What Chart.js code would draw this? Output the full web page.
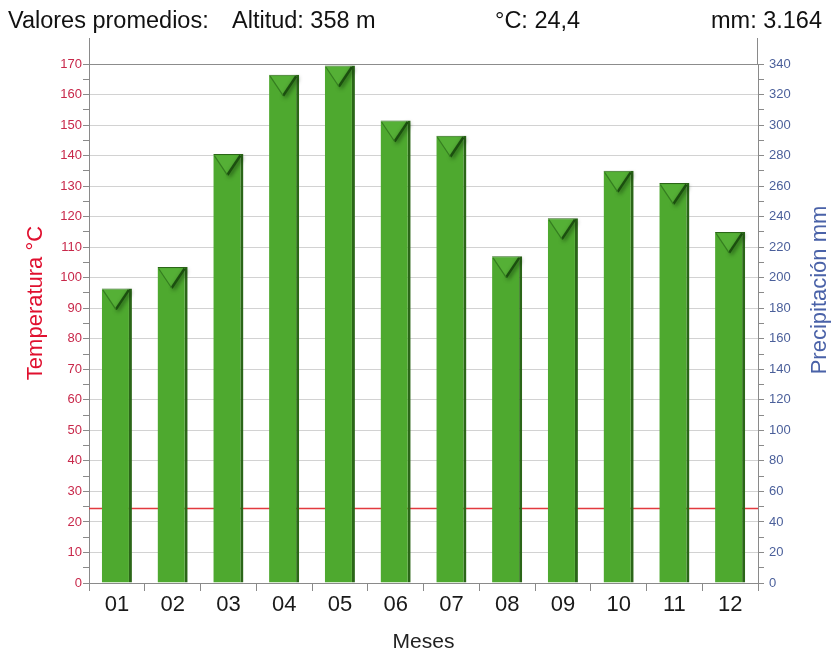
<!DOCTYPE html>
<html>
<head>
<meta charset="utf-8">
<script src="https://cdn.jsdelivr.net/npm/chart.js@4/dist/chart.umd.min.js"></script>
<style>
  html, body { margin: 0; padding: 0; background: #fff; }
  #wrap { width: 831px; height: 653px; position: relative; }
</style>
</head>
<body>
<div id="wrap"><canvas id="c" width="831" height="653"></canvas></div>
<script>
// Monthly climate data
const months = ['01', '02', '03', '04', '05', '06', '07', '08', '09', '10', '11', '12'];
const precipitation = [193, 207, 281, 333, 339, 303, 293, 214, 239, 270, 262, 230]; // mm
const temperature = [24.4, 24.4, 24.4, 24.4, 24.4, 24.4, 24.4, 24.4, 24.4, 24.4, 24.4, 24.4]; // °C
const headerLabels = ['Valores promedios:', 'Altitud: 358 m', '°C: 24,4', 'mm: 3.164'];
const tempTitle = 'Temperatura °C';
const precTitle = 'Precipitación mm';
const xTitle = 'Meses';

const FONT = "'Liberation Sans', Arial, sans-serif";
const AXIS_GRAY = '#8a8a8a';
const GRID_GRAY = '#d2d2d2';
const RED_TICK = '#c8284a';
const BLUE_TICK = '#4a5f9a';

// Temperature as a stepped line spanning each month slot, drawn behind the bars
const tempLinePlugin = {
  id: 'tempLine',
  beforeDatasetsDraw(chart) {
    const { ctx, scales } = chart;
    const x = scales.x, y = scales.y;
    const half = (x.getPixelForValue(1) - x.getPixelForValue(0)) / 2;
    ctx.save();
    ctx.strokeStyle = '#e23a3f';
    ctx.lineWidth = 1.5;
    ctx.beginPath();
    temperature.forEach((t, i) => {
      const cx = x.getPixelForValue(i);
      const py = y.getPixelForValue(t);
      if (i === 0) ctx.moveTo(cx - half, py); else ctx.lineTo(cx - half, py);
      ctx.lineTo(cx + half, py);
    });
    ctx.stroke();
    ctx.restore();
  }
};

// Bevelled triangle cap on each bar
const barCapPlugin = {
  id: 'barCap',
  afterDatasetsDraw(chart) {
    const { ctx } = chart;
    const meta = chart.getDatasetMeta(0);
    meta.data.forEach(bar => {
      const { x, y, width } = bar.getProps(['x', 'y', 'width'], true);
      const l = x - width / 2 + 1, r = x + width / 2 - 3;
      const cx = (l + r) / 2;
      const top = y + 1.5, apex = y + 21;
      ctx.save();
      ctx.beginPath();
      ctx.moveTo(l, top); ctx.lineTo(r, top); ctx.lineTo(cx, apex); ctx.closePath();
      ctx.fillStyle = '#55b036';
      ctx.fill();
      ctx.shadowColor = 'rgba(10,40,5,0.75)';
      ctx.shadowBlur = 4;
      ctx.shadowOffsetX = 1.5;
      ctx.shadowOffsetY = 1.5;
      ctx.strokeStyle = '#1b4f0f';
      ctx.lineWidth = 2.5;
      ctx.beginPath();
      ctx.moveTo(r, top); ctx.lineTo(cx, apex);
      ctx.stroke();
      ctx.shadowColor = 'transparent';
      ctx.strokeStyle = '#357d20';
      ctx.lineWidth = 1.2;
      ctx.beginPath();
      ctx.moveTo(l, top); ctx.lineTo(cx, apex);
      ctx.stroke();
      ctx.restore();
    });
  }
};

// Header, axis titles and axis extensions above the plot
const textPlugin = {
  id: 'texts',
  afterDraw(chart) {
    const { ctx, chartArea } = chart;
    ctx.save();
    // axis lines extend above the top value
    ctx.strokeStyle = AXIS_GRAY;
    ctx.lineWidth = 1;
    ctx.beginPath();
    ctx.moveTo(Math.round(chartArea.left) + 0.5, 38); ctx.lineTo(Math.round(chartArea.left) + 0.5, chartArea.top);
    ctx.moveTo(Math.round(chartArea.right) - 0.5, 38); ctx.lineTo(Math.round(chartArea.right) - 0.5, chartArea.top);
    ctx.stroke();

    ctx.fillStyle = '#111';
    ctx.font = '23.5px ' + FONT;
    ctx.textBaseline = 'alphabetic';
    ctx.textAlign = 'left';
    ctx.fillText(headerLabels[0], 8, 28);
    ctx.fillText(headerLabels[1], 232, 28);
    ctx.fillText(headerLabels[2], 495, 28);
    ctx.textAlign = 'right';
    ctx.fillText(headerLabels[3], 822, 28);

    ctx.textAlign = 'center';
    ctx.textBaseline = 'middle';
    ctx.font = '21px ' + FONT;
    ctx.fillStyle = '#222';
    ctx.fillText(xTitle, (chartArea.left + chartArea.right) / 2, 642);

    ctx.font = '22px ' + FONT;
    ctx.save();
    ctx.translate(36, 303);
    ctx.rotate(-Math.PI / 2);
    ctx.fillStyle = '#e0102f';
    ctx.fillText(tempTitle, 0, 0);
    ctx.restore();
    ctx.save();
    ctx.translate(820, 290);
    ctx.rotate(-Math.PI / 2);
    ctx.fillStyle = '#4a62a8';
    ctx.fillText(precTitle, 0, 0);
    ctx.restore();
    ctx.restore();
  }
};

new Chart(document.getElementById('c'), {
  type: 'bar',
  data: {
    labels: months,
    datasets: [{
      label: 'Precipitación',
      data: precipitation,
      yAxisID: 'y2',
      backgroundColor: '#4ea92f',
      borderColor: '#2b6618',
      borderWidth: { top: 1, right: 3, left: 0, bottom: 0 },
      borderSkipped: false,
      barPercentage: 0.54,
      categoryPercentage: 1.0
    }]
  },
  options: {
    responsive: false,
    animation: false,
    events: [],
    layout: { padding: { top: 64, left: 0, right: 0, bottom: 0 } },
    plugins: { legend: { display: false }, tooltip: { enabled: false } },
    scales: {
      x: {
        offset: true,
        grid: { offset: true, drawOnChartArea: false, color: AXIS_GRAY, tickLength: 8 },
        border: { color: AXIS_GRAY },
        ticks: { color: '#1a1a1a', font: { family: FONT, size: 22 }, padding: 1, maxRotation: 0 },
        afterFit(s) { s.height = 70; }
      },
      y: {
        position: 'left',
        min: 0, max: 170,
        grid: {
          color: c => (c.tick && c.tick.value % 10 === 0) ? (c.tick.value === 170 ? '#8c8c8c' : GRID_GRAY) : 'transparent',
          tickColor: AXIS_GRAY,
          tickLength: 6
        },
        border: { color: AXIS_GRAY },
        ticks: {
          stepSize: 5, autoSkip: false,
          callback: v => (v % 10 === 0 ? String(v) : ''),
          color: RED_TICK, font: { family: FONT, size: 13 }, padding: 1
        },
        afterFit(s) { s.width = 89; }
      },
      y2: {
        position: 'right',
        min: 0, max: 340,
        grid: { drawOnChartArea: false, tickColor: AXIS_GRAY, tickLength: 6 },
        border: { color: AXIS_GRAY },
        ticks: {
          stepSize: 10, autoSkip: false,
          callback: v => (v % 20 === 0 ? String(v) : ''),
          color: BLUE_TICK, font: { family: FONT, size: 13 }, padding: 5
        },
        afterFit(s) { s.width = 73; }
      }
    }
  },
  plugins: [tempLinePlugin, barCapPlugin, textPlugin]
});
</script>
</body>
</html>
